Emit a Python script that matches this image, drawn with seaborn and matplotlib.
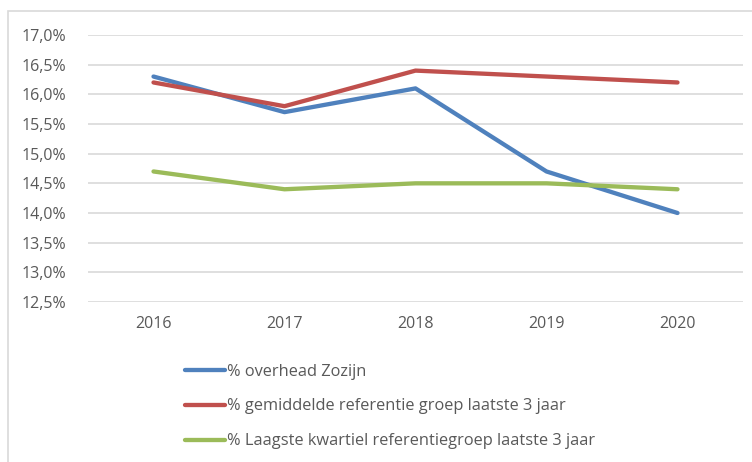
import matplotlib
matplotlib.use("Agg")
import matplotlib.pyplot as plt
import seaborn as sns
import pandas as pd
from matplotlib.patches import Rectangle
from matplotlib.ticker import FuncFormatter, MultipleLocator

years = ["2016", "2017", "2018", "2019", "2020"]
series_names = [
    "% overhead Zozijn",
    "% gemiddelde referentie groep laatste 3 jaar",
    "% Laagste kwartiel referentiegroep laatste 3 jaar",
]
overhead = [16.3, 15.7, 16.1, 14.7, 14.0]
gemiddelde = [16.2, 15.8, 16.4, 16.3, 16.2]
laagste = [14.7, 14.4, 14.5, 14.5, 14.4]
colors = ["#4F81BD", "#C0504D", "#9BBB59"]

rows = []
for name, vals in zip(series_names, [overhead, gemiddelde, laagste]):
    for i, (y, v) in enumerate(zip(years, vals)):
        rows.append({"idx": i, "year": y, "value": v, "series": name})
df = pd.DataFrame(rows)

sns.set_theme(style="white")
plt.rcParams["font.family"] = ["Open Sans", "DejaVu Sans"]

fig = plt.figure(figsize=(7.52, 4.62), dpi=100)
W, H = 752, 462
ax = fig.add_axes([88 / W, 1 - 302 / H, 655 / W, 267 / H])

sns.lineplot(data=df, x="idx", y="value", hue="series", palette=colors,
             linewidth=3.1, ax=ax, legend=False, sort=False)

ax.set_xlim(-0.5, 4.5)
ax.set_ylim(12.5, 17.0)
ax.yaxis.set_major_locator(MultipleLocator(0.5))
ax.yaxis.set_major_formatter(FuncFormatter(lambda v, p: f"{v:.1f}%".replace(".", ",")))
ax.set_xticks(range(len(years)))
ax.set_xticklabels(years)
ax.set_xlabel("")
ax.set_ylabel("")
ax.grid(axis="y", color="#d9d9d9", linewidth=1.2)
ax.set_axisbelow(True)
for s in ax.spines.values():
    s.set_visible(False)
ax.tick_params(axis="both", length=0, labelsize=11.5, colors="#595959")
ax.tick_params(axis="y", pad=16)
ax.tick_params(axis="x", pad=10)

# outer chart border
fig.patches.append(Rectangle((8 / W, -0.05), (W + 10) / W, 1 - 11 / H + 0.05,
                             transform=fig.transFigure, fill=False,
                             edgecolor="#d9d9d9", linewidth=1.2))

handles = [plt.Line2D([0], [0], color=c, linewidth=3.1) for c in colors]
leg = fig.legend(handles, series_names, loc="upper left",
                 bbox_to_anchor=(178 / W, 1 - 357 / H), frameon=False,
                 handlelength=2.45, handletextpad=0.15, labelspacing=1.15,
                 fontsize=11.8, borderaxespad=0)
for t in leg.get_texts():
    t.set_color("#595959")

fig.savefig("out.png", dpi=100)
